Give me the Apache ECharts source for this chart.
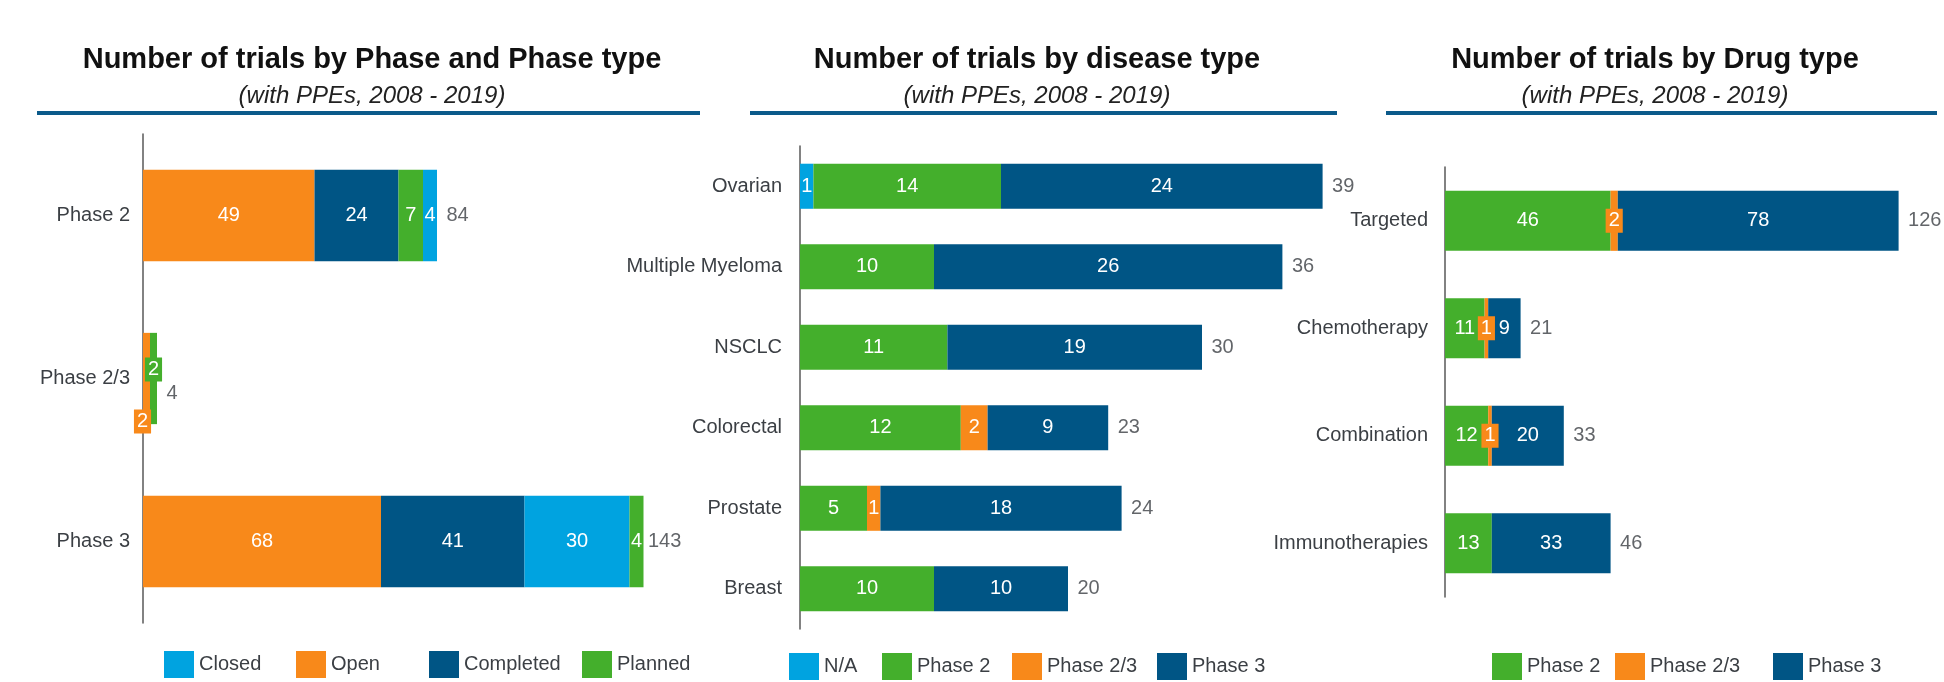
<!DOCTYPE html>
<html>
<head>
<meta charset="utf-8">
<script src="https://cdn.jsdelivr.net/npm/echarts@6/dist/echarts.min.js"></script>
<style>
  html, body { margin: 0; padding: 0; background: #fff; }
  #main { width: 1944px; height: 682px; }
</style>
</head>
<body>
<div id="main"></div>
<script>
// panel 1 - trials by phase and phase type
var phaseCats = ['Phase 2', 'Phase 2/3', 'Phase 3'];
var openVals = [49, 2, 68];
var completedVals = [24, 0, 41];
var plannedVals = [7, 2, 0];      // planned, stacked before closed
var closedVals = [4, 0, 30];
var plannedLateVals = [0, 0, 4];  // planned, stacked after closed (Phase 3)

// panel 2 - trials by disease type
var diseaseCats = ['Ovarian', 'Multiple Myeloma', 'NSCLC', 'Colorectal', 'Prostate', 'Breast'];
var diseaseNA = [1, 0, 0, 0, 0, 0];
var diseaseP2 = [14, 10, 11, 12, 5, 10];
var diseaseP23 = [0, 0, 0, 2, 1, 0];
var diseaseP3 = [24, 26, 19, 9, 18, 10];

// panel 3 - trials by drug type
var drugCats = ['Targeted', 'Chemotherapy', 'Combination', 'Immunotherapies'];
var drugP2 = [46, 11, 12, 13];
var drugP23 = [2, 1, 1, 0];
var drugP3 = [78, 9, 20, 33];

var ORANGE = '#F8891A', NAVY = '#005585', GREEN = '#44AF2C', LBLUE = '#00A3E0';
var FONT = '"Liberation Sans", Arial, sans-serif';
var GREY = '#3b3f44';

var grids = [
  { left: 143, top: 134, width: 560, height: 489, max: 160, margin: 13, pad: 4 },
  { left: 800, top: 146, width: 536, height: 483, max: 40, margin: 18, pad: 0 },
  { left: 1445, top: 167, width: 468, height: 430, max: 130, margin: 17, pad: 5 }
];

// hand placed labels in the original (Phase 2/3 bar is too thin)
var labelNudge = { '0|Planned|1': [0, -9], '0|Open|1': [-4, 43] };
var totalNudge = { '0|1': [0, 15], '0|2': [-5, 0] };

var series = [];

function addStack(g, name, color, vals) {
  var ppu = grids[g].width / grids[g].max;
  var data = vals.map(function (v, i) {
    var item = { value: v };
    var lab = {};
    if (v > 0 && v * ppu < 10) {
      lab.backgroundColor = color;
      lab.padding = [2, 3];
    }
    var n = labelNudge[g + '|' + name + '|' + i];
    if (n) lab.offset = n;
    item.label = lab;
    return item;
  });
  series.push({
    type: 'bar', name: name, xAxisIndex: g, yAxisIndex: g, stack: 's' + g,
    barWidth: '56%', itemStyle: { color: color },
    label: {
      show: true, position: 'inside', color: '#fff', fontSize: 20, fontFamily: FONT,
      formatter: function (p) { return p.value ? p.value : ''; }
    },
    data: data
  });
}

function addTotals(g, lists) {
  var data = lists[0].map(function (_, i) {
    var t = 0;
    lists.forEach(function (l) { t += l[i]; });
    var item = { value: [t, i] };
    var n = totalNudge[g + '|' + i];
    if (n) item.label = { offset: n };
    return item;
  });
  series.push({
    type: 'scatter', xAxisIndex: g, yAxisIndex: g, symbolSize: 1, silent: true,
    itemStyle: { color: 'rgba(0,0,0,0)' },
    label: {
      show: true, position: 'right', distance: 9, color: GREY, fontSize: 20, fontFamily: FONT,
      formatter: function (p) { return p.value[0]; }
    },
    data: data
  });
}

addStack(0, 'Open', ORANGE, openVals);
addStack(0, 'Completed', NAVY, completedVals);
addStack(0, 'Planned', GREEN, plannedVals);
addStack(0, 'Closed', LBLUE, closedVals);
addStack(0, 'Planned', GREEN, plannedLateVals);
addTotals(0, [openVals, completedVals, plannedVals, closedVals, plannedLateVals]);

addStack(1, 'N/A', LBLUE, diseaseNA);
addStack(1, 'Phase 2', GREEN, diseaseP2);
addStack(1, 'Phase 2/3', ORANGE, diseaseP23);
addStack(1, 'Phase 3', NAVY, diseaseP3);
addTotals(1, [diseaseNA, diseaseP2, diseaseP23, diseaseP3]);

addStack(2, 'Phase 2', GREEN, drugP2);
addStack(2, 'Phase 2/3', ORANGE, drugP23);
addStack(2, 'Phase 3', NAVY, drugP3);
addTotals(2, [drugP2, drugP23, drugP3]);

var cats = [phaseCats, diseaseCats, drugCats];

var xAxes = grids.map(function (g, i) {
  return { type: 'value', gridIndex: i, min: 0, max: g.max, show: false };
});
var yAxes = grids.map(function (g, i) {
  return {
    type: 'category', gridIndex: i, data: cats[i], inverse: true,
    axisLine: { show: true, lineStyle: { color: '#595959', width: 1.5 } },
    axisTick: { show: false },
    axisLabel: { color: GREY, fontSize: 20, fontFamily: FONT, margin: g.margin, padding: [g.pad, 0, 0, 0] },
    splitLine: { show: false }
  };
});

function legends(names, lefts, top) {
  return names.map(function (n, i) {
    return {
      data: [n], left: lefts[i], top: top, icon: 'rect', itemWidth: 30, itemHeight: 27,
      selectedMode: false,
      textStyle: { color: GREY, fontSize: 20, fontFamily: FONT }
    };
  });
}

var titleText = ['Number of trials by Phase and Phase type', 'Number of trials by disease type', 'Number of trials by Drug type'];
var titleCenters = [367, 1032, 1650];

var option = {
  backgroundColor: '#fff',
  animation: false,
  textStyle: { fontFamily: FONT },
  title: titleText.map(function (t, i) {
    return {
      text: t, subtext: '(with PPEs, 2008 - 2019)',
      left: titleCenters[i], top: 40, textAlign: 'center', itemGap: 10,
      textStyle: { fontSize: 29, fontWeight: 'bold', color: '#111', fontFamily: FONT },
      subtextStyle: { fontSize: 24, fontStyle: 'italic', color: '#222', fontFamily: FONT }
    };
  }),
  graphic: [
    { type: 'rect', shape: { x: 37, y: 111, width: 663, height: 4 }, style: { fill: '#0B5A8A' } },
    { type: 'rect', shape: { x: 750, y: 111, width: 587, height: 4 }, style: { fill: '#0B5A8A' } },
    { type: 'rect', shape: { x: 1386, y: 111, width: 551, height: 4 }, style: { fill: '#0B5A8A' } }
  ],
  legend: []
    .concat(legends(['Closed', 'Open', 'Completed', 'Planned'], [159, 291, 424, 577], 646))
    .concat(legends(['N/A', 'Phase 2', 'Phase 2/3', 'Phase 3'], [784, 877, 1007, 1152], 648))
    .concat(legends(['Phase 2', 'Phase 2/3', 'Phase 3'], [1487, 1610, 1768], 648)),
  grid: grids.map(function (g) {
    return { left: g.left, top: g.top, width: g.width, height: g.height };
  }),
  xAxis: xAxes,
  yAxis: yAxes,
  series: series
};

var myChart = echarts.init(document.getElementById('main'));
myChart.setOption(option);
</script>
</body>
</html>
